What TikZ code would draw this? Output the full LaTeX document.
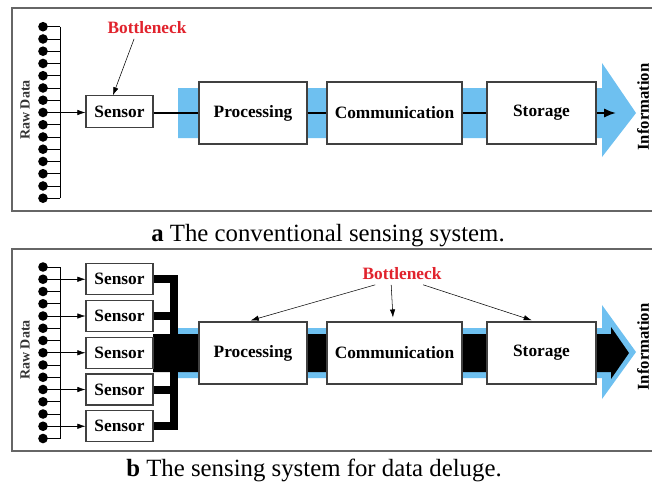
\documentclass[tikz,border=0pt]{standalone}
\usepackage{fontspec}
\setmainfont{Liberation Serif}
\usetikzlibrary{arrows.meta}

\definecolor{flowblue}{RGB}{110,192,240}
\definecolor{neckred}{RGB}{225,35,45}

\tikzset{
	frame/.style={draw=black!60, line width=1.2pt},
	stagebox/.style={draw=black!75, line width=0.8pt, fill=white, inner sep=0pt, minimum height=46.5pt},
	sensorbox/.style={draw=black!75, line width=0.8pt, fill=white, inner sep=0pt, minimum width=50.25pt, minimum height=23.5pt},
	necklabel/.style={text=neckred},
	sidelabel/.style={rotate=90, inner sep=0pt},
	caption/.style={font=\fontsize{18.6}{20}\selectfont},
	flowline/.style={line width=1.5pt},
	busline/.style={line width=6pt, line join=miter}
}

\begin{document}
\begin{tikzpicture}[x=0.75pt, y=-0.75pt, font=\fontsize{13}{15}\selectfont\bfseries, >={Latex[length=6pt,width=4pt]}]
	\useasboundingbox[fill=white] (0,0) rectangle (652,486);
	% a: conventional system
	\draw[frame] (652,8) -- (12,8) -- (12,211) -- (652,211);
	\fill[flowblue] (178,88) -- (602,88) -- (602,63) -- (636,113) -- (602,157) -- (602,138) -- (178,138) -- cycle;
	% raw data: 15 inputs on one bar
	\foreach \i in {0,...,14} {
		\fill (43, 26.7+12.25*\i) circle (3.6pt);
		\draw (43, 26.7+12.25*\i) -- (60, 26.7+12.25*\i);
	}
	\draw (60,26.7) -- (60,198.2);
	\coordinate (barA) at (60,112.5);
	\node[sidelabel, font=\fontsize{10.5}{12}\selectfont\bfseries, text=black!80] (rawA) at (25,110) {Raw Data};
	\node[sensorbox] (sensA) at (119.5,111.5) {Sensor};
	\node[stagebox, minimum width=81pt] (procA) at (253,113) {Processing};
	\node[stagebox, minimum width=101.25pt] (commA) at (394.5,113) {Communication};
	\node[stagebox, minimum width=81.75pt] (storA) at (541.5,113) {Storage};
	\coordinate (outA) at (616,113);
	\node[sidelabel, font=\fontsize{12.5}{14}\selectfont\bfseries] (infoA) at (643,107) {Information};
	\draw[->] (barA) -- (sensA.west |- barA);
	\draw[flowline] (sensA.east |- procA) -- (procA.west);
	\draw[flowline] (procA.east) -- (commA.west);
	\draw[flowline] (commA.east) -- (storA.west);
	\draw[flowline, -{Latex[length=9pt,width=7pt]}] (storA.east) -- (outA);
	\node[necklabel] (neckA) at (147,28) {Bottleneck};
	\draw[->] (neckA.220) -- (sensA.112);
	\node[caption] (capA) at (328,236) {\textbf{a} The conventional sensing system.};
	% b: system for data deluge
	\draw[frame] (652,249) -- (12,249) -- (12,451) -- (652,451);
	\fill[flowblue] (178,328) -- (602,328) -- (602,305) -- (636,352) -- (602,399) -- (602,378) -- (178,378) -- cycle;
	\fill (153,334) -- (611,334) -- (611,327) -- (629,353) -- (611,379) -- (611,372) -- (153,372) -- cycle;
	\foreach \i in {0,...,14} {
		\fill (43, 267+12.25*\i) circle (3.6pt);
		\draw (43, 267+12.25*\i) -- (60, 267+12.25*\i);
	}
	\draw (60,267) -- (60,438.5);
	\coordinate (barB) at (60,353);
	\coordinate (busB) at (174,353);
	\foreach \k in {1,...,5}
		\node[sensorbox, minimum height=23.25pt] (sensB\k) at (119.5, 242.5+36.75*\k) {Sensor};
	\foreach \k in {1,...,5}
		\draw[->] (sensB\k.west -| barB) -- (sensB\k.west);
	\draw[busline] (sensB1.east) -| (busB) |- (sensB5.east);
	\draw[busline] (sensB2.east) -- (sensB2.east -| busB);
	\draw[busline] (sensB4.east) -- (sensB4.east -| busB);
	\node[sidelabel, font=\fontsize{10.5}{12}\selectfont\bfseries, text=black!80] (rawB) at (25,350) {Raw Data};
	\node[stagebox, minimum width=81pt] (procB) at (253,353) {Processing};
	\node[stagebox, minimum width=101.25pt] (commB) at (394.5,353) {Communication};
	\node[stagebox, minimum width=81.75pt] (storB) at (541.5,353) {Storage};
	\node[sidelabel, font=\fontsize{12.5}{14}\selectfont\bfseries] (infoB) at (643,347) {Information};
	\node[necklabel] (neckB) at (402,274) {Bottleneck};
	\draw[->, shorten >=3pt] (neckB.202) -- ([xshift=-4.5pt]procB.north);
	\draw[->, shorten >=3pt] (neckB.225) -- ([xshift=-1pt]commB.north);
	\draw[->, shorten >=3pt] (neckB.333) -- ([xshift=-4.5pt]storB.north);
	\node[caption] (capB) at (314,470) {\textbf{b} The sensing system for data deluge.};
\end{tikzpicture}
\end{document}
